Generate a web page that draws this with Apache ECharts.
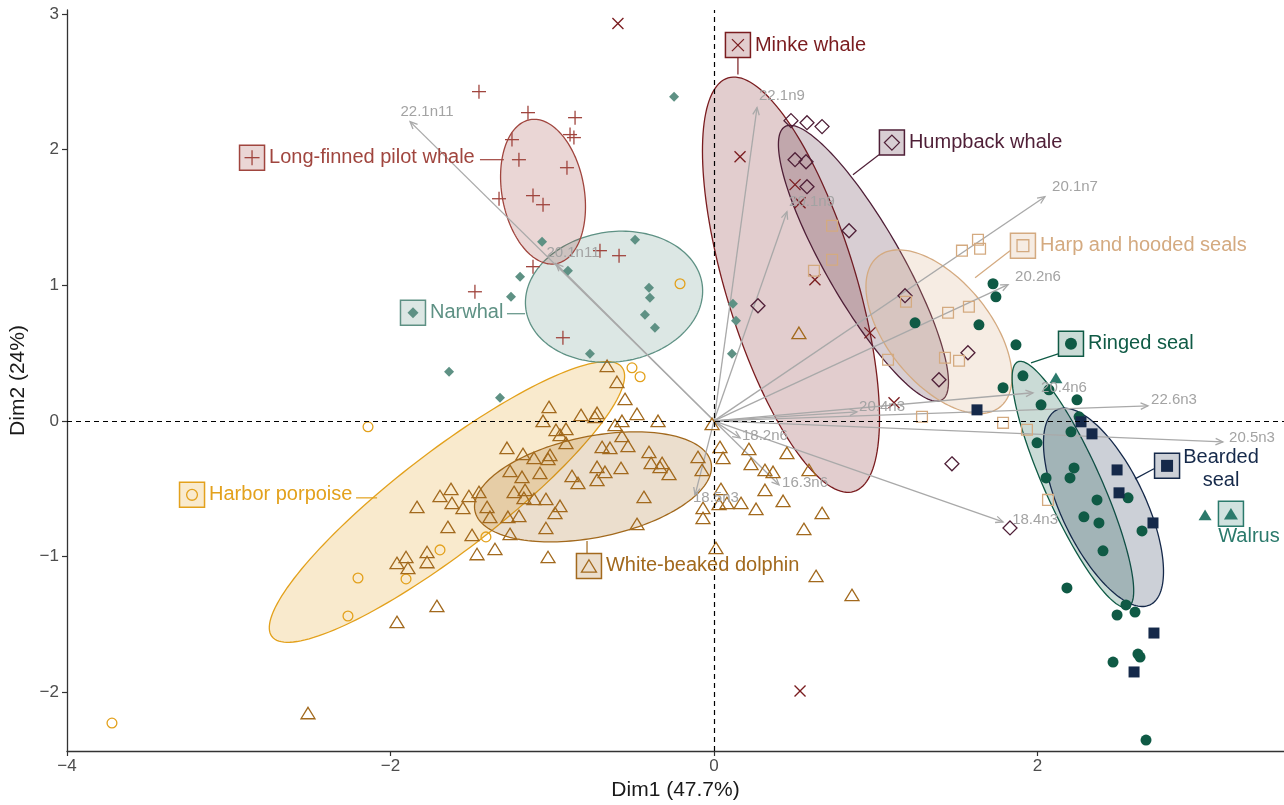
<!DOCTYPE html>
<html>
<head>
<meta charset="utf-8">
<script src="https://cdn.jsdelivr.net/npm/echarts@6/dist/echarts.min.js"></script>
<style>
  html, body { margin: 0; padding: 0; background: #ffffff; }
  #chart { width: 1284px; height: 805px; }
</style>
</head>
<body>
<div id="chart"></div>
<script>
// ---- PCA individuals (Dim1, Dim2) per species ----
const pilotWhale = [[-1.453,2.428],[-1.150,2.273],[-0.859,2.236],[-0.890,2.111],[-0.866,2.089],[-1.249,2.074],[-1.206,1.926],[-0.909,1.867],[-1.329,1.638],[-1.119,1.661],[-1.057,1.594],[-0.705,1.255],[-0.587,1.218],[-1.119,1.137],[-1.478,0.952],[-0.934,0.613]];
const minkeWhale = [[-0.594,2.930],[0.161,1.948],[0.501,1.742],[0.532,1.609],[0.624,1.041],[0.964,0.649],[1.113,0.133],[0.532,-1.993]];
const humpbackWhale = [[0.476,2.214],[0.575,2.199],[0.668,2.170],[0.501,1.926],[0.569,1.911],[0.575,1.727],[0.835,1.402],[0.272,0.849],[1.181,0.923],[1.570,0.502],[1.391,0.303],[1.471,-0.317],[1.830,-0.790]];
const harpHoodedSeals = [[0.730,1.439],[0.730,1.188],[0.618,1.107],[1.533,1.255],[1.632,1.336],[1.645,1.269],[1.576,0.841],[1.447,0.797],[1.187,0.878],[1.076,0.450],[1.428,0.465],[1.515,0.443],[1.286,0.030],[1.787,-0.015],[1.935,-0.066],[2.065,-0.583]];
const ringedSeal = [[1.725,1.011],[1.743,0.915],[1.638,0.708],[1.243,0.723],[1.867,0.561],[1.910,0.332],[1.787,0.244],[2.071,0.229],[2.244,0.155],[2.022,0.118],[2.257,0.030],[2.207,-0.081],[1.997,-0.162],[2.226,-0.347],[2.201,-0.421],[2.053,-0.421],[2.368,-0.583],[2.560,-0.568],[2.287,-0.708],[2.380,-0.753],[2.646,-0.812],[2.405,-0.959],[2.182,-1.232],[2.547,-1.358],[2.492,-1.432],[2.603,-1.410],[2.467,-1.779],[2.621,-1.720],[2.634,-1.742],[2.671,-2.354]];
const beardedSeal = [[1.626,0.081],[2.269,-0.007],[2.337,-0.096],[2.492,-0.362],[2.504,-0.531],[2.714,-0.753],[2.720,-1.565],[2.597,-1.852]];
const walrus = [[2.114,0.317],[3.036,-0.694]];
const narwhal = [[-0.247,2.391],[-1.063,1.321],[-0.488,1.336],[-0.903,1.107],[-1.199,1.063],[-1.255,0.915],[-0.402,0.982],[-0.396,0.908],[-0.427,0.782],[-0.365,0.686],[-0.767,0.494],[-1.638,0.362],[-1.323,0.170],[0.117,0.863],[0.136,0.738],[0.111,0.494]];
const harborPorpoise = [[-2.139,-0.044],[-2.201,-1.159],[-2.263,-1.439],[-3.722,-2.229],[-0.507,0.391],[-0.457,0.325],[-1.410,-0.856],[-1.694,-0.952],[-1.904,-1.166],[-0.210,1.011]];
const whiteBeakedDolphin = [[-0.661,0.406],[-0.600,0.288],[-0.550,0.162],[-1.020,0.103],[-0.476,0.052],[-0.822,0.044],[-0.723,0.059],[-0.736,0.030],[-1.057,0.000],[-0.346,0.000],[-0.612,-0.030],[-0.569,0.000],[-0.977,-0.066],[-0.915,-0.059],[-0.952,-0.103],[-0.569,-0.111],[-0.915,-0.162],[-0.532,-0.185],[-0.692,-0.192],[-0.643,-0.199],[-1.280,-0.199],[-1.181,-0.244],[-1.113,-0.273],[-1.014,-0.251],[-1.026,-0.280],[-0.402,-0.229],[-0.099,-0.266],[-1.261,-0.369],[-1.076,-0.384],[-1.187,-0.413],[-0.878,-0.406],[-0.723,-0.339],[-0.674,-0.376],[-0.575,-0.347],[-0.389,-0.310],[-0.321,-0.310],[-0.278,-0.391],[-0.334,-0.339],[-0.841,-0.458],[-0.723,-0.435],[-0.074,-0.362],[-1.236,-0.524],[-1.168,-0.509],[-1.175,-0.568],[-1.113,-0.576],[-1.039,-0.576],[-1.626,-0.502],[-1.694,-0.554],[-1.515,-0.554],[-1.453,-0.524],[-1.836,-0.635],[-1.620,-0.605],[-1.552,-0.642],[-1.403,-0.635],[-0.952,-0.627],[-0.433,-0.561],[-0.983,-0.679],[-1.385,-0.708],[-1.274,-0.708],[-1.206,-0.701],[-1.645,-0.782],[-1.496,-0.841],[-1.261,-0.834],[-1.039,-0.790],[-0.476,-0.760],[-0.068,-0.642],[-0.068,-0.716],[-1.465,-0.982],[-1.354,-0.945],[-1.026,-1.004],[-1.960,-1.048],[-1.904,-1.004],[-1.774,-0.967],[-1.774,-1.041],[-1.892,-1.085],[-1.713,-1.365],[-1.960,-1.483],[-2.510,-2.155],[0.525,0.649],[-0.012,-0.022],[0.037,-0.192],[0.216,-0.207],[0.056,-0.273],[0.229,-0.317],[0.451,-0.236],[0.315,-0.362],[0.365,-0.376],[0.587,-0.362],[0.043,-0.502],[0.315,-0.509],[0.167,-0.605],[0.427,-0.590],[0.080,-0.605],[0.031,-0.612],[0.260,-0.649],[0.668,-0.679],[0.556,-0.797],[0.012,-0.937],[0.631,-1.144],[0.853,-1.284]];

// ---- concentration ellipses: centre, then two conjugate semi-diameters (Dim units) ----
const pilotEllipse    = [-1.057, 1.690, -0.080, 0.531, 0.250, 0.054];
const minkeEllipse    = [0.476, 1.004, -0.389, 1.525, 0.385, 0.139];
const humpbackEllipse = [0.924, 1.162, -0.485, 1.008, 0.203, 0.139];
const harpEllipse     = [1.391, 0.657, -0.378, 0.554, 0.247, 0.240];
const ringedEllipse   = [2.219, -0.469, -0.341, 0.904, 0.158, 0.085];
const beardedEllipse  = [2.408, -0.638, -0.288, 0.719, 0.234, 0.134];
const narwhalEllipse  = [-0.618, 0.915, 0.545, 0.0915, 0.0556, -0.475];
const harborEllipse   = [-1.651, -0.598, 1.082, 0.993, 0.189, -0.293];
const dolphinEllipse  = [-0.748, -0.487, 0.730, 0.177, 0.0618, -0.365];

// ---- variable loadings (arrows) ----
const varNames = ['22.1n11','20.1n11','22.1n9','20.1n9','20.1n7','20.2n6','20.4n6','22.6n3','20.5n3','20.4n3','18.4n3','18.2n6','16.3n6','18.5n3'];
const varDim1  = [-1.879, -0.977, 0.266, 0.451, 2.046, 1.818, 1.972, 2.683, 3.146, 0.884, 1.787, 0.161, 0.402, -0.117];
const varDim2  = [2.207, 1.159, 2.310, 1.542, 1.653, 1.004, 0.207, 0.111, -0.155, 0.066, -0.745, -0.125, -0.472, -0.546];
const varLabelDim1 = [-1.774, -0.872, 0.420, 0.606, 2.232, 2.003, 2.164, 2.844, 3.326, 1.039, 1.985, 0.315, 0.563, 0.012];
const varLabelDim2 = [2.280, 1.240, 2.399, 1.616, 1.727, 1.063, 0.244, 0.155, -0.125, 0.103, -0.731, -0.111, -0.458, -0.568];

// ---- axis ticks ----
const xTicks = [-4, -2, 0, 2];
const yTicks = [-2, -1, 0, 1, 2, 3];

// ---- species styling and label placement ----
const groups = [
  { label: 'Harbor porpoise', pts: harborPorpoise, kind: 'circleO', color: '#e3a11c', size: 11, ell: harborEllipse,
    box: [-3.227, -0.546], link: [[-2.213, -0.568], [-2.083, -0.568]] },
  { label: 'White-beaked dolphin', pts: whiteBeakedDolphin, kind: 'triangleO', color: '#a2691d', size: 14, ell: dolphinEllipse,
    box: [-0.773, -1.070], link: [[-0.785, -0.982], [-0.785, -0.886]] },
  { label: 'Narwhal', pts: narwhal, kind: 'diamondF', color: '#5e9184', size: 10, ell: narwhalEllipse,
    box: [-1.861, 0.797], link: [[-1.280, 0.790], [-1.168, 0.790]] },
  { label: 'Long-finned pilot whale', pts: pilotWhale, kind: 'plus', color: '#a0453e', size: 14, ell: pilotEllipse,
    box: [-2.856, 1.941], link: [[-1.447, 1.926], [-1.299, 1.926]] },
  { label: 'Minke whale', pts: minkeWhale, kind: 'cross', color: '#7a1c1f', size: 11, ell: minkeEllipse,
    box: [0.148, 2.771], link: [[0.148, 2.679], [0.148, 2.554]] },
  { label: 'Humpback whale', pts: humpbackWhale, kind: 'diamondO', color: '#4f1f37', size: 14, ell: humpbackEllipse,
    box: [1.100, 2.052], link: [[1.020, 1.963], [0.859, 1.815]] },
  { label: 'Harp and hooded seals', pts: harpHoodedSeals, kind: 'rectO', color: '#d4aa80', size: 12, ell: harpEllipse,
    box: [1.910, 1.292], link: [[1.830, 1.255], [1.614, 1.055]] },
  { label: 'Ringed seal', pts: ringedSeal, kind: 'circleF', color: '#0f5a45', size: 11, ell: ringedEllipse,
    box: [2.207, 0.568], link: [[2.127, 0.494], [1.960, 0.428]] },
  { label: 'Bearded\nseal', pts: beardedSeal, kind: 'rectF', color: '#15294a', size: 11, ell: beardedEllipse,
    box: [2.801, -0.332], link: [[2.720, -0.354], [2.603, -0.428]], textMode: 'stack' },
  { label: 'Walrus', pts: walrus, kind: 'triangleF', color: '#2b7a6c', size: 13, ell: null,
    box: [3.196, -0.686], link: null, textMode: 'below' }
];

function rgba(hex, a) {
  const n = parseInt(hex.slice(1), 16);
  return 'rgba(' + ((n >> 16) & 255) + ',' + ((n >> 8) & 255) + ',' + (n & 255) + ',' + a + ')';
}

// marker primitive drawn in pixel space around (x, y)
function marker(kind, x, y, s, color) {
  const h = s / 2, lw = 1.3;
  const stroke = { fill: 'none', stroke: color, lineWidth: lw };
  const solid = { fill: color, stroke: null };
  switch (kind) {
    case 'plus':
      return { type: 'group', children: [
        { type: 'line', shape: { x1: x - h, y1: y, x2: x + h, y2: y }, style: stroke },
        { type: 'line', shape: { x1: x, y1: y - h, x2: x, y2: y + h }, style: stroke } ] };
    case 'cross':
      return { type: 'group', children: [
        { type: 'line', shape: { x1: x - h, y1: y - h, x2: x + h, y2: y + h }, style: stroke },
        { type: 'line', shape: { x1: x - h, y1: y + h, x2: x + h, y2: y - h }, style: stroke } ] };
    case 'circleO':
      return { type: 'circle', shape: { cx: x, cy: y, r: h - 0.6 }, style: stroke };
    case 'circleF':
      return { type: 'circle', shape: { cx: x, cy: y, r: h }, style: solid };
    case 'rectO':
      return { type: 'rect', shape: { x: x - h + 0.6, y: y - h + 0.6, width: s - 1.2, height: s - 1.2 }, style: stroke };
    case 'rectF':
      return { type: 'rect', shape: { x: x - h, y: y - h, width: s, height: s }, style: solid };
    case 'diamondO':
      return { type: 'polygon', shape: { points: [[x, y - h], [x + h, y], [x, y + h], [x - h, y]] }, style: stroke };
    case 'diamondF':
      return { type: 'polygon', shape: { points: [[x, y - h], [x + h, y], [x, y + h], [x - h, y]] }, style: solid };
    case 'triangleO': {
      const th = s * 0.82;
      return { type: 'polygon', shape: { points: [[x, y - th / 2], [x + h, y + th / 2], [x - h, y + th / 2]] }, style: stroke };
    }
    case 'triangleF': {
      const th = s * 0.82;
      return { type: 'polygon', shape: { points: [[x, y - th / 2], [x + h, y + th / 2], [x - h, y + th / 2]] }, style: solid };
    }
  }
}

const series = [];

// dashed reference lines through the origin
series.push({
  type: 'custom', coordinateSystem: 'cartesian2d', silent: true, z: 1,
  data: [[0, 0]], encode: { x: 0, y: 1 },
  renderItem: function () { return null; },
  markLine: {
    silent: true, symbol: 'none', animation: false,
    label: { show: false },
    lineStyle: { color: '#000000', type: [5, 4], width: 1.2 },
    data: [{ xAxis: 0 }, { yAxis: 0 }]
  }
});

// ellipses
groups.forEach(function (g) {
  if (!g.ell) return;
  series.push({
    type: 'custom', coordinateSystem: 'cartesian2d', silent: true, z: 2,
    dimensions: ['cx', 'cy', 'ux', 'uy', 'vx', 'vy'],
    encode: { x: 0, y: 1 },
    data: [g.ell],
    renderItem: function (params, api) {
      const cx = api.value(0), cy = api.value(1), ux = api.value(2), uy = api.value(3), vx = api.value(4), vy = api.value(5);
      const pts = [];
      const n = 160;
      for (let i = 0; i < n; i++) {
        const t = i / n * Math.PI * 2;
        pts.push(api.coord([cx + ux * Math.cos(t) + vx * Math.sin(t), cy + uy * Math.cos(t) + vy * Math.sin(t)]));
      }
      return { type: 'polygon', shape: { points: pts },
        style: { fill: rgba(g.color, 0.22), stroke: g.color, lineWidth: 1.3 } };
    }
  });
});

// variable arrows
const arrowColor = '#a9a9a9';
series.push({
  type: 'custom', coordinateSystem: 'cartesian2d', silent: true, z: 3,
  encode: { x: 0, y: 1 },
  data: varDim1.map(function (v, i) { return [v, varDim2[i]]; }),
  renderItem: function (params, api) {
    const o = api.coord([0, 0]);
    const t = api.coord([api.value(0), api.value(1)]);
    const ang = Math.atan2(t[1] - o[1], t[0] - o[0]);
    const L = 8, a = 0.42;
    return { type: 'group', children: [
      { type: 'line', shape: { x1: o[0], y1: o[1], x2: t[0], y2: t[1] }, style: { stroke: arrowColor, lineWidth: 1.3 } },
      { type: 'polyline', shape: { points: [
          [t[0] - L * Math.cos(ang - a), t[1] - L * Math.sin(ang - a)], [t[0], t[1]],
          [t[0] - L * Math.cos(ang + a), t[1] - L * Math.sin(ang + a)]] },
        style: { stroke: arrowColor, fill: 'none', lineWidth: 1.3 } }
    ] };
  }
});

// species points
groups.forEach(function (g) {
  series.push({
    type: 'custom', coordinateSystem: 'cartesian2d', silent: true, z: 4,
    encode: { x: 0, y: 1 },
    data: g.pts,
    renderItem: function (params, api) {
      const p = api.coord([api.value(0), api.value(1)]);
      return marker(g.kind, p[0], p[1], g.size, g.color);
    }
  });
});

// variable names
series.push({
  type: 'custom', coordinateSystem: 'cartesian2d', silent: true, z: 5,
  encode: { x: 0, y: 1 },
  data: varLabelDim1.map(function (v, i) { return [v, varLabelDim2[i]]; }),
  renderItem: function (params, api) {
    const p = api.coord([api.value(0), api.value(1)]);
    return { type: 'text', style: { x: p[0], y: p[1], text: varNames[params.dataIndex],
      fill: '#a3a3a3', font: '15px "Liberation Sans", Arial, sans-serif', align: 'center', verticalAlign: 'middle' } };
  }
});

// species labels: framed marker, name and leader line
groups.forEach(function (g) {
  series.push({
    type: 'custom', coordinateSystem: 'cartesian2d', silent: true, z: 6,
    encode: { x: 0, y: 1 },
    data: [g.box],
    renderItem: function (params, api) {
      const b = api.coord([api.value(0), api.value(1)]);
      const kids = [];
      if (g.link) {
        const a1 = api.coord(g.link[0]), a2 = api.coord(g.link[1]);
        kids.push({ type: 'line', shape: { x1: a1[0], y1: a1[1], x2: a2[0], y2: a2[1] }, style: { stroke: g.color, lineWidth: 1.2 } });
      }
      kids.push({ type: 'rect', shape: { x: b[0] - 12.5, y: b[1] - 12.5, width: 25, height: 25 },
        style: { fill: rgba(g.color, 0.22), stroke: g.color, lineWidth: 1.5 } });
      kids.push(marker(g.kind, b[0], b[1], g.size + 1, g.color));
      const font = '20px "Liberation Sans", Arial, sans-serif';
      if (g.textMode === 'stack') {
        kids.push({ type: 'text', style: { x: b[0] + 54, y: b[1] + 3, text: g.label, fill: g.color, font: font,
          align: 'center', verticalAlign: 'middle', lineHeight: 23 } });
      } else if (g.textMode === 'below') {
        kids.push({ type: 'text', style: { x: b[0] + 18, y: b[1] + 23, text: g.label, fill: g.color, font: font,
          align: 'center', verticalAlign: 'middle' } });
      } else {
        kids.push({ type: 'text', style: { x: b[0] + 17, y: b[1], text: g.label, fill: g.color, font: font,
          align: 'left', verticalAlign: 'middle' } });
      }
      return { type: 'group', children: kids };
    }
  });
});

const minusFmt = function (v) { return String(v).replace('-', '\u2212'); };

const chart = echarts.init(document.getElementById('chart'), null, { renderer: 'canvas' });
chart.setOption({
  animation: false,
  backgroundColor: '#ffffff',
  textStyle: { fontFamily: '"Liberation Sans", Arial, sans-serif' },
  grid: { left: 67, right: 0, top: 10, bottom: 54, containLabel: false, outerBoundsMode: 'none' },
  xAxis: {
    type: 'value', min: -4, max: 3.524,
    axisLine: { show: true, onZero: false, lineStyle: { color: '#333333', width: 1.3 } },
    axisTick: { show: true, length: 5, customValues: xTicks, lineStyle: { color: '#333333', width: 1.2 } },
    axisLabel: { customValues: xTicks, formatter: minusFmt, color: '#4d4d4d', fontSize: 17, margin: 7 },
    splitLine: { show: false },
    name: 'Dim1 (47.7%)', nameLocation: 'middle', nameGap: 27,
    nameTextStyle: { fontSize: 21, color: '#1a1a1a' }
  },
  yAxis: {
    type: 'value', min: -2.435, max: 3.03,
    axisLine: { show: true, onZero: false, lineStyle: { color: '#333333', width: 1.3 } },
    axisTick: { show: true, length: 5, customValues: yTicks, lineStyle: { color: '#333333', width: 1.2 } },
    axisLabel: { customValues: yTicks, formatter: minusFmt, color: '#4d4d4d', fontSize: 17, margin: 8 },
    splitLine: { show: false },
    name: 'Dim2 (24%)', nameLocation: 'middle', nameGap: 36, nameRotate: 90,
    nameTextStyle: { fontSize: 21, color: '#1a1a1a' }
  },
  series: series
});
</script>
</body>
</html>
